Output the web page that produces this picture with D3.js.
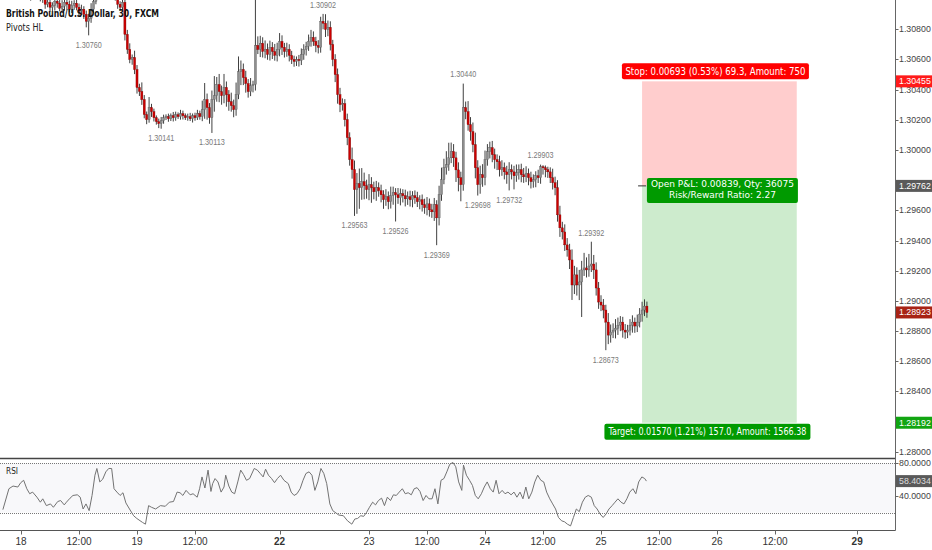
<!DOCTYPE html>
<html><head><meta charset="utf-8">
<script src="https://cdn.jsdelivr.net/npm/d3@7"></script>
<style>body{margin:0;background:#fff;} svg{display:block;}</style>
</head><body><svg id="c" width="932" height="550"></svg>
<script>
// ---------------- DATA ----------------
const firstBar = -9;            // bar index of first candle (bar 0 = 18th 00:00, 30-min bars)
const firstOpen = 1.31060;
const closes = [
1.31080,1.31100,1.31070,1.31050,1.31090,1.31110,1.31080,1.31060,1.31040,1.31030,
1.31060,1.31080,1.31050,1.31020,1.31040,1.31070,1.31050,1.31020,1.31000,1.30966,
1.30979,1.30946,1.30959,1.30986,1.30973,1.30939,1.30953,1.30979,1.30966,1.30933,
1.30959,1.30973,1.30946,1.30919,1.30933,1.30899,1.30853,1.30873,1.30933,1.30986,
1.31032,1.31060,1.31090,1.31110,1.31080,1.31100,1.31070,1.31040,1.31010,1.30966,
1.30946,1.30979,1.30766,1.30667,1.30600,1.30613,1.30533,1.30414,1.30388,1.30334,
1.30235,1.30201,1.30281,1.30254,1.30214,1.30188,1.30175,1.30194,1.30214,1.30221,
1.30207,1.30227,1.30214,1.30234,1.30221,1.30241,1.30227,1.30214,1.30221,1.30207,
1.30227,1.30214,1.30241,1.30221,1.30267,1.30334,1.30281,1.30214,1.30334,1.30360,
1.30434,1.30387,1.30360,1.30414,1.30367,1.30320,1.30294,1.30267,1.30367,1.30520,
1.30533,1.30480,1.30440,1.30387,1.30427,1.30434,1.30693,1.30666,1.30707,1.30653,
1.30666,1.30633,1.30680,1.30653,1.30627,1.30666,1.30720,1.30680,1.30653,1.30666,
1.30627,1.30600,1.30587,1.30600,1.30593,1.30633,1.30666,1.30687,1.30720,1.30746,
1.30720,1.30693,1.30680,1.30853,1.30840,1.30799,1.30813,1.30700,1.30600,1.30500,
1.30367,1.30301,1.30307,1.30201,1.30082,1.29936,1.29870,1.29737,1.29777,1.29750,
1.29790,1.29763,1.29737,1.29770,1.29750,1.29723,1.29750,1.29730,1.29703,1.29670,
1.29690,1.29657,1.29697,1.29717,1.29703,1.29683,1.29710,1.29697,1.29676,1.29690,
1.29670,1.29697,1.29683,1.29657,1.29670,1.29637,1.29617,1.29643,1.29603,1.29590,
1.29637,1.29550,1.29703,1.29803,1.29882,1.29902,1.29948,1.29989,1.29948,1.29868,
1.29816,1.29770,1.30281,1.30254,1.30168,1.30122,1.30035,1.29882,1.29770,1.29836,
1.29816,1.29936,1.29989,1.30015,1.29969,1.29936,1.29922,1.29869,1.29882,1.29855,
1.29836,1.29869,1.29855,1.29829,1.29849,1.29869,1.29836,1.29822,1.29842,1.29816,
1.29790,1.29803,1.29829,1.29816,1.29889,1.29882,1.29869,1.29855,1.29816,1.29783,
1.29750,1.29570,1.29484,1.29457,1.29371,1.29338,1.29271,1.29105,1.29172,1.29105,
1.29125,1.29205,1.29218,1.29205,1.29231,1.29244,1.29205,1.29085,1.28992,1.28972,
1.28939,1.28859,1.28773,1.28793,1.28806,1.28819,1.28839,1.28859,1.28806,1.28793,
1.28806,1.28839,1.28859,1.28833,1.28859,1.28912,1.28939,1.28965,1.28923];
// upper / lower shadow lengths in points (0.00001)
const wickHi = [
30,25,40,20,35,30,25,40,30,20, 35,25,30,40,20,30,25,35,30,40,
25,30,20,35,25,30,40,20,30,25, 30,20,35,25,30,20,25,30,40,35,
30,25,20,35,30,25,40,30,25,30, 20,35,25,30,40,20,45,30,25,60,
30,20,70,25,20,15,20,25,20,15, 20,15,25,20,15,25,20,15,20,25,
15,20,25,20,60,110,40,30,60,130, 50,70,40,90,40,30,60,40,80,100,
60,40,45,30,50,25,400,60,50,40, 60,40,45,35,50,45,55,40,30,45,
35,30,25,20,30,40,35,30,45,50, 40,30,35,30,49,60,45,40,30,35,
40,45,35,30,40,35,80,60,70,100, 90,60,40,70,50,40,45,35,40,30,
50,35,60,40,30,45,35,30,40,35, 40,30,35,40,30,35,40,45,35,40,
45,30,60,80,60,90,100,60,50,40, 50,40,159,40,70,50,60,80,50,60,
70,60,50,40,45,40,35,40,50,35, 40,50,35,40,55,35,40,45,50,35,
40,35,30,40,14,10,15,20,30,60, 40,50,60,40,50,45,40,70,60,50,
80,60,100,70,80,148,60,50,40,45, 40,35,60,50,45,60,50,40,35,40,
35,40,45,30,50,40,55,45,30];
const wickLo = [
25,30,35,20,30,25,35,30,20,25, 30,25,35,30,25,20,30,35,25,30,
20,30,25,35,30,20,25,30,35,20, 25,30,20,35,25,30,40,93,30,25,
20,30,25,20,35,30,25,40,20,30, 25,20,40,30,25,35,30,40,30,35,
25,30,20,35,25,20,30,34,20,15, 20,15,25,20,15,20,25,15,20,15,
25,20,15,20,30,60,80,40,101,80, 40,70,60,50,80,60,40,50,40,30,
90,50,60,40,30,45,40,30,50,40, 45,35,40,50,35,40,45,50,40,35,
40,30,35,30,40,30,35,40,30,35, 30,45,40,35,40,50,45,40,45,50,
60,50,40,45,50,40,60,174,160,140, 80,90,60,70,100,50,60,40,50,60,
40,50,45,60,177,40,50,45,50,40, 45,50,40,35,50,45,40,50,45,40,
60,181,50,40,30,45,40,35,60,80, 90,110,40,50,40,60,50,70,72,60,
60,50,40,45,50,60,55,45,40,50, 60,104,50,90,40,45,50,40,35,50,
45,40,50,35,40,45,50,40,35,45, 50,45,60,50,40,45,60,99,60,70,
100,232,40,50,45,40,60,50,45,40, 55,186,60,50,40,55,45,40,50,45,
40,35,50,45,40,35,50,40,35];

const pivotBars   = [28,58,79,125,138,155,172,183,189,202,215,236,242];
const pivotPrices = [1.30760,1.30141,1.30113,1.30902,1.29563,1.29526,1.29369,1.30440,1.29698,1.29732,1.29903,1.29392,1.28673];
const pivotTypes  = ["L","L","L","H","L","L","L","H","L","L","H","H","L"];

const priceTicks = [1.308,1.306,1.304,1.302,1.300,1.296,1.294,1.292,1.290,1.288,1.286,1.284,1.280];
const timeTickLabels = ["18","12:00","19","12:00","22","23","12:00","24","12:00","25","12:00","26","12:00","29"];
const timeTickBars   = [0,24,48,72,107,144,168,192,216,240,264,288,312,346];
const timeTickBold   = ["22","29"];

const rsiBars = [-7.5,-5.0,-3.3,-1.3,-0.1,1.1,2.4,3.6,4.8,6.6,8.0,9.0,10.5,12.2,13.4,15.2,16.4,17.9,18.8,20.3,
21.5,23.3,24.5,25.7,26.9,28.2,29.4,30.6,31.4,32.6,33.8,35.1,36.3,37.5,38.5,39.7,41.0,42.2,43.4,44.9,
46.6,47.9,50.3,51.5,52.8,54.0,55.7,57.7,59.7,61.4,63.1,64.6,65.8,67.0,68.3,70.0,71.2,72.9,73.9,74.9,
76.1,77.4,78.6,79.3,80.3,81.5,82.8,84.0,84.7,86.0,87.2,88.4,89.7,90.9,92.1,93.3,94.6,96.5,97.8,99.0,
100.2,101.2,102.4,103.7,104.9,106.1,107.4,108.8,110.6,111.8,113.0,114.2,115.5,116.7,117.9,119.2,120.4,121.6,122.8,124.1,
125.3,126.5,127.8,129.0,131.5,133.4,135.1,136.9,138.1,139.3,140.6,141.8,143.0,144.2,145.5,146.7,147.9,149.2,150.4,151.6,
152.9,154.1,155.3,156.5,157.8,159.0,160.2,161.5,162.7,163.9,165.1,166.4,167.6,168.8,170.1,171.3,172.5,173.8,175.0,176.2,
177.4,178.7,179.9,181.1,182.4,183.1,184.3,185.6,186.8,188.0,189.2,190.5,191.7,192.9,194.2,195.4,196.6,197.8,199.1,200.3,
201.5,202.8,204.0,205.2,206.5,207.7,208.9,210.1,211.4,212.6,213.8,215.1,216.3,217.5,218.8,220.0,221.2,222.4,223.7,224.9,
226.1,227.4,228.6,229.8,231.0,232.3,233.5,234.7,236.0,237.2,238.4,239.6,240.9,242.1,243.3,244.6,245.8,247.0,248.3,249.5,
250.7,251.9,253.2,254.4,255.6,256.9,258.1,258.8];
const rsiVals = [23.6,49.1,52.4,51.2,56.5,59.4,49.1,43.0,45.0,38.8,32.7,36.8,28.5,30.6,26.5,33.5,34.7,29.4,32.7,37.6,
40.9,41.7,38.8,24.4,30.6,22.4,40.9,65.6,73.8,57.4,60.7,69.7,73.8,73.8,49.1,45.0,40.9,44.2,31.8,24.4,
16.2,12.9,8.0,5.9,28.5,26.5,24.4,28.5,27.7,32.7,33.5,45.0,44.2,40.9,47.1,41.7,43.0,38.8,49.1,63.5,
50.0,71.8,45.8,55.3,61.5,57.4,45.0,51.2,65.6,52.4,45.0,43.0,57.4,71.8,66.4,59.4,61.5,73.8,71.8,67.7,
63.5,73.0,65.6,61.5,56.5,61.5,65.6,59.4,55.3,45.0,40.9,43.0,49.1,59.4,67.7,69.7,65.6,47.1,57.4,73.8,
67.7,55.3,30.6,22.4,17.0,16.2,10.0,5.9,12.1,12.9,16.2,15.4,20.3,26.5,32.7,29.4,34.7,37.6,28.5,38.8,
34.7,41.7,40.9,45.0,49.1,43.0,44.2,41.7,49.1,50.4,45.8,34.7,40.9,36.8,36.8,49.1,30.6,59.4,61.5,69.7,
78.8,81.2,75.9,57.4,47.1,77.9,65.6,59.4,53.2,40.9,36.8,43.0,51.2,57.4,49.1,45.0,59.4,43.0,47.1,43.0,
45.0,41.7,45.0,38.8,45.0,36.8,51.2,36.8,45.0,57.4,65.6,59.4,57.4,45.0,36.8,30.6,24.4,14.1,10.0,8.8,
5.9,3.8,14.1,24.4,21.1,32.7,38.8,40.9,38.8,28.5,24.4,18.3,14.1,18.3,24.4,28.5,32.7,36.8,32.7,30.6,
36.8,45.0,49.1,43.0,57.4,63.5,61.5,58.4];
const rsiTicks = [80,40];
const rsiBands = [80,20];
const rsiLast = 58.4034;

const posStop = 1.30455, posEntry = 1.29762, posTarget = 1.28192, posStartBar = 257, posEndBar = 321;
const lastPrice = 1.28923;
const stopText = "Stop: 0.00693 (0.53%) 69.3, Amount: 750";
const pnlText1 = "Open P&L: 0.00839, Qty: 36075";
const pnlText2 = "Risk/Reward Ratio: 2.27";
const targetText = "Target: 0.01570 (1.21%) 157.0, Amount: 1566.38";
const titleText = "British Pound/U.S. Dollar, 30, FXCM";
const indicatorText = "Pivots HL";

// ---------------- CHART ----------------
const svg = d3.select("#c");
const W = 932, axisX = 895.5, mainBottom = 458.5, rsiTop = 460, rsiBottom = 530.5;

const x = d3.scaleLinear().domain([0, 48]).range([21, 137]);
const y = d3.scaleLinear().domain([1.28, 1.30800]).range([451.7, 29.3]);
const yR = d3.scaleLinear().domain([20, 80]).range([512.6, 463.4]);

svg.append("rect").attr("width", W).attr("height", 550).attr("fill", "#fff");

const defs = svg.append("defs");
defs.append("clipPath").attr("id", "mainClip").append("rect")
  .attr("x", 0).attr("y", 0).attr("width", axisX).attr("height", mainBottom);
defs.append("clipPath").attr("id", "rsiClip").append("rect")
  .attr("x", 0).attr("y", rsiTop).attr("width", axisX).attr("height", rsiBottom - rsiTop);

const main = svg.append("g").attr("clip-path", "url(#mainClip)");

// position tool zones
const bx0 = x(posStartBar), bx1 = x(posEndBar);
main.append("rect").attr("x", bx0).attr("width", bx1 - bx0)
  .attr("y", y(posStop)).attr("height", y(posEntry) - y(posStop)).attr("fill", "#ffcdcd");
main.append("rect").attr("x", bx0).attr("width", bx1 - bx0)
  .attr("y", y(posEntry)).attr("height", y(posTarget) - y(posEntry)).attr("fill", "#cdebcd");

// candles
const candles = closes.map((c, i) => {
  const o = i === 0 ? firstOpen : closes[i - 1];
  return {bar: firstBar + i, o, c,
    h: Math.max(o, c) + wickHi[i] * 1e-5,
    l: Math.min(o, c) - wickLo[i] * 1e-5};
});
const cg = main.append("g");
cg.selectAll("line.w").data(candles).join("line").attr("class", "w")
  .attr("x1", d => x(d.bar)).attr("x2", d => x(d.bar))
  .attr("y1", d => y(d.h)).attr("y2", d => y(d.l))
  .attr("stroke", "#2a2a2a").attr("stroke-width", 0.9);
cg.selectAll("rect.b").data(candles).join("rect").attr("class", "b")
  .attr("x", d => x(d.bar) - 1.05).attr("width", 2.1)
  .attr("y", d => y(Math.max(d.o, d.c)))
  .attr("height", d => Math.max(0.9, y(Math.min(d.o, d.c)) - y(Math.max(d.o, d.c))))
  .attr("fill", d => d.c >= d.o ? "#8e8e8e" : "#cc0000")
  .attr("stroke", d => d.c >= d.o ? "#555" : "#7a0000").attr("stroke-width", 0.35);

// pivot labels
main.selectAll("text.pv").data(pivotBars).join("text").attr("class", "pv")
  .attr("x", d => x(d))
  .attr("y", (d, i) => pivotTypes[i] === "H" ? y(pivotPrices[i]) - 8.5 : y(pivotPrices[i]) + 10)
  .attr("text-anchor", "middle").attr("dominant-baseline", "middle")
  .attr("font-family", "Liberation Sans, Arial, sans-serif").attr("font-size", 9)
  .attr("textLength", 26).attr("lengthAdjust", "spacingAndGlyphs")
  .attr("fill", "#7a7a7a").text((d, i) => pivotPrices[i].toFixed(5));

// entry marker
main.append("line").attr("x1", bx0 - 4).attr("x2", bx0 + 4)
  .attr("y1", y(posEntry)).attr("y2", y(posEntry)).attr("stroke", "#333").attr("stroke-width", 1);

// position labels
const cx = (bx0 + bx1) / 2;
function boxLabel(lines, fill, cxo, topY, w, h, tl) {
  const g = svg.append("g");
  g.append("rect").attr("x", cxo - w / 2).attr("y", topY).attr("width", w).attr("height", h)
    .attr("rx", 2).attr("fill", fill);
  lines.forEach((t, k) => {
    g.append("text").attr("x", cxo).attr("y", topY + (lines.length === 1 ? h / 2 + 0.5 : 7 + k * 10.5))
      .attr("text-anchor", "middle").attr("dominant-baseline", "middle")
      .attr("font-family", "DejaVu Sans, Verdana, sans-serif").attr("font-size", lines.length === 1 ? 10.5 : 9.5)
      .attr("textLength", tl[k]).attr("lengthAdjust", "spacingAndGlyphs")
      .attr("fill", "#fff").text(t);
  });
}
boxLabel([stopText], "#ff0000", cx - 4, y(posStop) - 18, 187, 16, [180]);
boxLabel([pnlText1, pnlText2], "#009a00", cx + 3, y(posEntry) - 8, 151, 25, [143, 107]);
boxLabel([targetText], "#009a00", cx - 12, y(posTarget) + 1, 206, 16, [198]);

// title
svg.append("text").attr("x", 6).attr("y", 17).attr("font-family", "DejaVu Sans, Verdana, sans-serif")
  .attr("font-weight", "bold").attr("font-size", 10.5).attr("fill", "#111")
  .attr("textLength", 153).attr("lengthAdjust", "spacingAndGlyphs").text(titleText);
svg.append("text").attr("x", 6).attr("y", 30.5).attr("font-family", "DejaVu Sans, Verdana, sans-serif")
  .attr("font-size", 10.5).attr("fill", "#222")
  .attr("textLength", 37).attr("lengthAdjust", "spacingAndGlyphs").text(indicatorText);

// RSI pane
const rsiG = svg.append("g").attr("clip-path", "url(#rsiClip)");
rsiG.append("rect").attr("x", 0).attr("width", axisX).attr("y", yR(rsiBands[0]))
  .attr("height", yR(rsiBands[1]) - yR(rsiBands[0])).attr("fill", "#f8f8fa");
rsiBands.forEach(b => rsiG.append("line").attr("x1", 0).attr("x2", axisX)
  .attr("y1", Math.round(yR(b)) + 0.5).attr("y2", Math.round(yR(b)) + 0.5)
  .attr("stroke", "#777").attr("stroke-dasharray", "1,1").attr("stroke-width", 1));
const rsiLine = d3.line().x((d, i) => x(rsiBars[i])).y(d => yR(d));
rsiG.append("path").attr("d", rsiLine(rsiVals)).attr("fill", "none")
  .attr("stroke", "#727272").attr("stroke-width", 1);
svg.append("text").attr("x", 6).attr("y", 474).attr("font-family", "DejaVu Sans, Verdana, sans-serif")
  .attr("font-size", 9.5).attr("fill", "#222").attr("textLength", 12).attr("lengthAdjust", "spacingAndGlyphs").text("RSI");

// frame lines
svg.append("line").attr("x1", 0).attr("x2", axisX).attr("y1", mainBottom).attr("y2", mainBottom)
  .attr("stroke", "#444").attr("stroke-width", 1.3);
svg.append("line").attr("x1", 0).attr("x2", axisX).attr("y1", rsiBottom).attr("y2", rsiBottom)
  .attr("stroke", "#555").attr("stroke-width", 1);
svg.append("line").attr("x1", axisX).attr("x2", axisX).attr("y1", 0).attr("y2", rsiBottom)
  .attr("stroke", "#666").attr("stroke-width", 1);

// price axis
const axG = svg.append("g");
const axFont = 8.8, axTextX = 899;
priceTicks.forEach(p => {
  const yy = Math.round(y(p)) + 0.5;
  axG.append("line").attr("x1", axisX).attr("x2", axisX + 3).attr("y1", yy).attr("y2", yy).attr("stroke", "#666");
  axG.append("text").attr("x", axTextX).attr("y", yy).attr("dominant-baseline", "middle")
    .attr("font-family", "Liberation Sans, Arial, sans-serif").attr("font-size", axFont)
    .attr("fill", "#444").text(p.toFixed(5));
});
rsiTicks.forEach(v => {
  const yy = Math.round(yR(v)) + 0.5;
  axG.append("line").attr("x1", axisX).attr("x2", axisX + 3).attr("y1", yy).attr("y2", yy).attr("stroke", "#666");
  axG.append("text").attr("x", axTextX).attr("y", yy).attr("dominant-baseline", "middle")
    .attr("font-family", "Liberation Sans, Arial, sans-serif").attr("font-size", axFont)
    .attr("fill", "#444").text(v.toFixed(4));
});
function axisTag(yy, txt, fill, fg) {
  axG.append("rect").attr("x", axisX + 0.5).attr("y", yy - 6).attr("width", W - axisX).attr("height", 12).attr("fill", fill);
  axG.append("text").attr("x", axTextX).attr("y", yy + 0.5).attr("dominant-baseline", "middle")
    .attr("font-family", "Liberation Sans, Arial, sans-serif").attr("font-size", axFont)
    .attr("fill", fg).text(txt);
}
axisTag(y(posStop), posStop.toFixed(5), "#ff1a1a", "#fff");
axisTag(y(posEntry), posEntry.toFixed(5), "#5a5a5a", "#fff");
axisTag(y(lastPrice), lastPrice.toFixed(5), "#a82315", "#fff");
axisTag(y(posTarget), posTarget.toFixed(5), "#11a511", "#fff");
axisTag(yR(rsiLast), rsiLast.toFixed(4), "#5a5a5a", "#ddd");

// time axis
timeTickBars.forEach((b, i) => {
  const xx = Math.round(x(b)) + 0.5;
  svg.append("line").attr("x1", xx).attr("x2", xx).attr("y1", rsiBottom).attr("y2", rsiBottom + 4).attr("stroke", "#666");
  svg.append("text").attr("x", x(b)).attr("y", 542).attr("text-anchor", "middle").attr("dominant-baseline", "middle")
    .attr("font-family", "Liberation Sans, Arial, sans-serif").attr("font-size", 10)
    .attr("font-weight", timeTickBold.includes(timeTickLabels[i]) ? "bold" : "normal")
    .attr("fill", "#333").text(timeTickLabels[i]);
});
</script></body></html>
